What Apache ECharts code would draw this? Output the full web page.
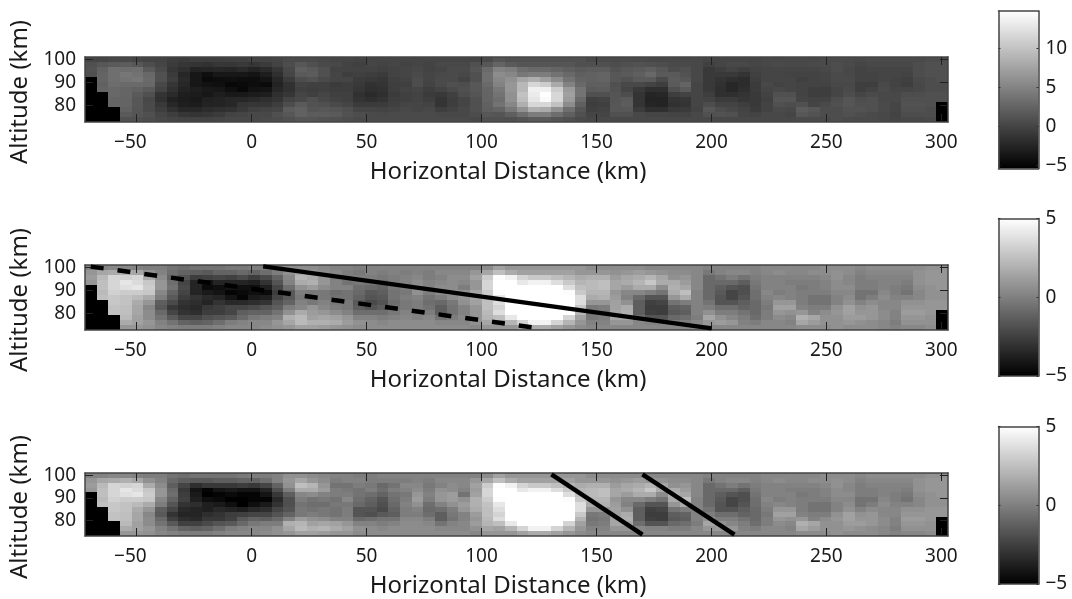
<!DOCTYPE html>
<html>
<head>
<meta charset="utf-8">
<style>
  html, body { margin: 0; padding: 0; background: #fff; }
  #chart { width: 1072px; height: 599px; }
</style>
<script src="https://cdn.jsdelivr.net/npm/echarts@6/dist/echarts.min.js"></script>
</head>
<body>
<div id="chart"></div>
<script>
// tick labels
const distanceTicks = [-50, 0, 50, 100, 150, 200, 250, 300];
const altitudeTicks = [80, 90, 100];
const barTicksTop = [-5, 0, 5, 10];
const barTicks = [-5, 0, 5];

// field extent (km)
const distanceRange = [-72.5, 302.9];
const altitudeRange = [72.9, 101.1];

// temperature per column, each column top row to bottom row
const fieldColumns = [
  [0.1,0.9,1.1,0.9,-6,-6,-6,-6,-6,-6,-6,-6,-6],
  [0.1,1.5,2.3,2.5,2.5,2.3,2.5,-6,-6,-6,-6,-6,-6],
  [0.3,1.7,3.4,3.4,3.4,3.2,2.8,2.8,2.6,2.6,-6,-6,-6],
  [0.3,1.9,3.2,4,3.8,3,2.6,2.6,2.5,2.5,2.3,1.7,0.9],
  [0.1,1.5,3.4,3.6,4,3,2.3,1.7,1.5,1.5,1.3,1.3,0.9],
  [-0.1,0.7,1.7,2.8,3,2.8,1.7,0.9,0.3,0.5,0.5,0.9,0.7],
  [-0.1,0.1,0.5,0.9,0.9,0.3,-0.1,-1.3,-1.5,-0.9,-0.5,0.1,0.3],
  [-0.5,-0.7,-1.1,-0.7,-0.5,-1.1,-1.5,-2.1,-2.8,-2.3,-1.5,-0.5,0.1],
  [-0.7,-1.1,-1.7,-2.3,-2.1,-2.3,-2.6,-3,-3.2,-3,-2.3,-1.1,-0.1],
  [-0.5,-1.3,-2.6,-3.6,-3.6,-3.6,-3,-3.2,-3.4,-3.2,-2.3,-1.3,-0.1],
  [-0.5,-1.5,-2.5,-4.2,-4.6,-4,-3.4,-3.6,-2.8,-2.6,-1.9,-1.1,-0.1],
  [-0.5,-1.1,-2.3,-3.6,-4.4,-4.2,-3.6,-3,-2.6,-2.6,-1.7,-0.7,0.1],
  [-0.3,-1.1,-2.5,-3.6,-4.2,-4.8,-4.2,-3.4,-2.3,-2.3,-1.5,-0.1,0.3],
  [-0.3,-0.9,-2.1,-3.6,-4.4,-4.6,-4.8,-3.4,-2.3,-1.3,-0.9,0.1,0.3],
  [-0.1,-1.1,-2.6,-3.8,-4.4,-4.4,-4,-3.2,-2.1,-1.1,-0.3,0.3,0.3],
  [-0.1,-0.7,-2.1,-3,-3.8,-4.6,-3.8,-3,-1.7,-1.1,-0.1,0.3,0.5],
  [0.1,-0.1,-1.1,-1.7,-2.3,-2.6,-2.3,-1.7,-1.3,-0.5,0.1,0.9,0.7],
  [0.5,0.7,0.3,0.1,-0.7,-1.5,-1.5,-1.1,-0.1,0.7,1.9,1.5,0.9],
  [0.5,1.5,2.1,1.7,0.7,-0.1,-0.3,0.1,0.3,1.7,2.3,2.3,1.3],
  [0.5,0.9,1.7,1.9,1.1,-0.3,-0.5,-0.3,0.9,1.1,1.3,1.9,1.3],
  [0.3,0.5,0.9,0.9,0.5,-0.3,-0.3,0.1,0.3,0.9,1.5,1.9,1.1],
  [0.1,0.3,-0.1,0.1,0.1,-0.7,-0.5,-0.3,-0.1,0.5,1.3,1.7,0.9],
  [0.1,-0.1,-0.1,-0.5,0.1,-0.5,-0.5,-0.3,-0.3,0.1,0.9,1.1,0.7],
  [-0.1,-0.3,-0.1,-0.3,-0.7,-0.9,-1.1,-1.5,-1.3,-0.7,0.1,0.7,0.5],
  [0.1,0.1,-0.1,-0.5,-0.9,-1.5,-1.7,-2.1,-1.7,-0.7,0.1,0.5,0.5],
  [0.1,-0.1,-0.3,-0.7,-1.1,-1.3,-1.5,-1.7,-1.3,-0.7,-0.1,0.3,0.5],
  [0.1,0.1,-0.1,-0.1,-0.3,-0.5,-0.5,-0.7,-0.5,-0.3,0.1,0.5,0.5],
  [0.1,-0.1,0.1,0.1,-0.1,-0.3,-0.1,-0.3,-0.3,0.1,0.3,0.5,0.5],
  [0.1,0.1,0.3,0.5,0.7,0.7,0.1,-0.1,-0.1,0.1,0.1,0.5,0.5],
  [0.1,-0.1,-0.1,0.1,0.1,-0.1,-0.5,-0.7,-0.5,-0.1,0.3,0.5,0.5],
  [0.1,0.3,0.1,0.3,0.5,0.5,-0.1,-0.9,-1.3,-1.3,-0.5,0.3,0.5],
  [0.1,0.3,0.5,0.5,0.5,0.9,0.5,-0.3,-0.5,-0.5,-0.1,0.3,0.5],
  [0.1,0.3,0.5,0.3,-0.1,0.7,0.9,0.7,0.1,0.1,0.3,0.3,0.5],
  [0.1,0.9,1.3,0.9,0.9,1.5,1.5,1.3,0.9,0.9,0.9,0.7,0.3],
  [0.5,1.5,3,3.4,3.4,3,2.6,2.5,2.5,2.3,2.1,1.5,0.9],
  [1.3,2.5,4.9,5.7,5.3,4.9,4.1,3.7,3.3,3.7,2.5,1.3,0.9],
  [0.9,1.7,4.5,5.3,6.1,6.5,6.5,6.1,6.1,5.3,4.1,2.1,0.9],
  [0.9,1.3,3.3,4.1,7.7,9.2,9.2,10,9.6,8.5,6.1,3.3,1.3],
  [0.9,1.3,2.9,4.5,8.5,11.6,13.6,13.2,12.8,11.6,8.5,4.5,1.7],
  [0.9,1.3,2.9,4.5,7.3,10.8,13.6,14.8,14.4,11.6,8.1,4.5,1.7],
  [0.9,1.3,2.5,3.7,5.7,8.1,10.8,11.6,11.6,10,6.1,3.3,1.3],
  [0.9,1.3,2.1,2.9,3.7,4.9,6.9,7.3,6.9,5.7,3.3,2.1,0.9],
  [0.9,0.9,1.7,2.1,2.5,2.9,3.7,3.7,2.9,2.1,1.3,0.9,0.5],
  [0.5,0.9,1.9,2.3,2.3,2.1,1.7,0.9,-0.3,-0.5,-0.3,0.1,0.3],
  [0.5,0.9,1.9,2.5,2.5,2.1,1.9,0.9,-0.1,-0.3,-0.1,0.1,0.3],
  [0.5,0.7,1.1,1.5,1.5,0.9,1.1,1.3,1.3,1.5,1.5,0.9,0.3],
  [0.5,0.9,1.5,1.7,1.1,0.3,0.1,0.7,1.7,1.9,1.5,0.9,0.3],
  [0.5,1.1,1.7,2.1,1.7,0.3,-0.9,-1.3,-1.3,-1.3,-0.7,0.3,0.3],
  [0.3,0.9,2.1,2.8,1.7,-0.1,-1.7,-2.5,-2.6,-2.5,-1.7,0.1,0.3],
  [0.3,0.7,1.5,1.7,0.5,-0.5,-1.7,-2.3,-2.6,-2.6,-1.7,0.1,0.3],
  [0.3,0.5,0.7,1.7,1.9,1.7,0.9,-0.5,-1.3,-1.5,-0.9,-0.1,0.3],
  [0.3,0.5,0.9,1.1,1.5,2.5,1.7,-0.1,-1.1,-1.3,-0.7,-0.1,0.3],
  [0.3,0.3,0.3,0.3,0.3,0.1,0.1,0.1,0.1,0.1,-0.1,0.3,0.3],
  [0.1,-0.3,-0.9,-0.9,-0.9,-0.9,-0.9,-0.5,-0.1,0.7,1.5,0.9,0.3],
  [0.1,0.1,-0.5,-0.9,-1.3,-1.5,-1.7,-1.7,-0.7,-0.1,0.7,1.1,0.3],
  [0.1,0.3,-0.1,-0.9,-1.7,-2.3,-2.3,-1.7,-0.7,-0.1,0.3,0.9,0.3],
  [0.1,0.3,-0.5,-1.3,-1.9,-1.9,-1.7,-1.3,-1.1,-0.5,-0.1,0.1,0.3],
  [0.1,0.1,-0.1,-0.3,-0.5,-0.7,-0.7,-0.9,-0.9,-0.9,-0.7,-0.1,0.3],
  [0.3,0.3,0.1,0.1,0.1,0.3,0.1,-0.1,-0.3,-0.1,-0.1,0.3,0.3],
  [0.3,0.5,0.1,0.1,0.1,-0.1,0.3,0.9,1.3,0.9,0.5,0.3,0.3],
  [0.3,0.3,0.1,-0.1,0.1,0.1,0.1,0.9,1.3,0.7,0.3,0.1,0.3],
  [0.3,0.3,0.1,-0.1,-0.3,-0.1,-0.1,-0.1,0.1,0.9,1.9,1.5,0.5],
  [0.3,0.5,0.1,-0.1,-0.1,-0.1,-0.5,-0.5,-0.1,0.1,1.5,1.1,0.5],
  [0.5,0.5,0.3,0.1,0.1,-0.1,-0.5,-0.5,-0.1,0.5,0.7,0.7,0.5],
  [0.5,0.7,0.7,0.5,0.5,0.3,0.1,0.1,0.7,0.9,0.7,0.7,0.7],
  [0.5,0.5,0.3,0.3,0.5,0.3,0.5,0.7,1.3,1.3,1.1,0.9,0.5],
  [0.3,0.1,-0.1,-0.1,-0.1,-0.5,-0.5,0.1,0.7,0.9,1.1,0.7,0.5],
  [0.5,0.3,0.1,-0.1,-0.1,-0.5,-0.1,0.5,0.9,0.9,0.9,0.5,0.5],
  [0.5,0.3,0.1,0.1,0.1,0.3,0.5,0.3,0.3,0.5,0.5,0.3,0.3],
  [0.5,0.3,0.1,0.1,-0.1,-0.1,0.1,0.3,0.3,0.1,0.1,-0.1,0.1],
  [0.5,0.3,0.1,-0.1,-0.3,-0.5,0.1,0.7,0.9,1.1,0.9,0.7,0.3],
  [0.5,0.7,0.7,0.7,0.5,0.3,0.3,0.7,0.9,1.1,0.9,0.7,0.3],
  [0.7,0.9,0.9,0.9,0.7,0.7,0.7,0.9,0.9,0.9,0.7,0.7,0.5],
  [0.7,0.9,0.9,0.9,0.9,0.7,0.7,0.9,0.9,-6,-6,-6,-6],
];

// bottom panel differs from the field only in columns 7 to 33
const filteredMiddle = [
  [-0.5,-0.9,-1.3,-0.9,-0.7,-1.1,-1.7,-2.3,-3,-2.5,-1.5,-0.5,0.1],
  [-0.7,-1.3,-2.3,-2.8,-2.6,-2.5,-3,-3.4,-3.6,-3.2,-2.5,-1.1,-0.1],
  [-0.5,-1.5,-3.2,-4.2,-4,-3.8,-3.2,-3.6,-3.6,-3.4,-2.5,-1.3,-0.1],
  [-0.5,-1.5,-2.8,-4.8,-5,-4.4,-3.8,-3.8,-3.2,-2.8,-2.1,-1.1,-0.1],
  [-0.5,-1.3,-2.8,-4.2,-4.8,-4.6,-4,-3.4,-3,-2.8,-1.7,-0.7,0.1],
  [-0.5,-1.3,-2.8,-4,-4.6,-5,-4.4,-3.6,-2.6,-2.5,-1.5,-0.1,0.3],
  [-0.3,-1.1,-2.6,-4.2,-4.8,-5,-5,-3.8,-2.5,-1.5,-0.9,0.1,0.3],
  [-0.1,-1.1,-2.8,-4.2,-4.8,-4.8,-4.4,-3.4,-2.3,-1.1,-0.3,0.3,0.3],
  [-0.1,-0.7,-2.3,-3.6,-4.2,-4.8,-4,-3.2,-2.3,-1.3,-0.1,0.3,0.5],
  [0.1,0.1,-1.1,-1.9,-2.8,-3.4,-3,-2.3,-1.7,-0.9,-0.1,0.7,0.7],
  [0.7,0.9,0.7,-0.1,-1.3,-1.9,-1.9,-1.7,-1.1,0.1,1.9,1.5,0.9],
  [0.7,1.5,2.5,1.7,0.3,-0.1,-0.5,-0.3,-0.3,1.1,2.1,2.3,1.3],
  [0.5,0.9,2.1,1.7,0.5,-0.5,-0.7,-0.5,-0.1,0.7,1.3,1.9,1.3],
  [0.3,0.5,0.9,1.1,0.1,-0.3,-0.7,-0.3,-0.3,0.5,1.5,2.1,1.1],
  [0.1,-0.1,-0.5,-0.1,-0.1,-0.5,-0.3,-0.5,-0.5,0.1,1.3,1.7,0.9],
  [0.1,0.1,-0.5,-0.3,-0.1,0.3,-0.3,-0.1,-0.1,0.1,0.9,1.3,0.9],
  [-0.1,0.1,-0.1,-0.5,-0.5,-0.7,-0.9,-1.7,-1.7,-0.9,0.1,0.7,0.5],
  [-0.1,-0.1,-0.3,-0.1,-0.7,-1.1,-1.3,-1.7,-1.9,-0.7,0.1,0.5,0.5],
  [0.1,-0.1,-0.9,-0.7,-1.1,-1.7,-1.9,-2.1,-1.5,-0.5,-0.1,0.3,0.5],
  [0.1,-0.1,-0.5,-0.1,-0.5,-0.7,-0.9,-1.1,-1.3,-0.5,0.1,0.5,0.5],
  [0.1,-0.1,0.3,0.1,-0.3,-0.1,0.1,-0.1,-0.1,0.3,0.5,0.5,0.5],
  [0.1,0.1,0.3,0.5,0.9,1.1,0.7,0.1,-0.1,0.3,0.5,0.5,0.5],
  [0.1,-0.1,-0.3,-0.1,0.1,-0.1,-0.7,-0.9,-0.7,-0.1,0.3,0.5,0.5],
  [0.1,0.3,0.1,0.7,0.9,0.9,0.1,-0.7,-1.3,-1.3,-0.5,0.3,0.5],
  [0.1,0.3,0.5,0.5,1.1,1.1,0.7,-0.1,-0.3,-0.5,0.1,0.3,0.5],
  [0.1,0.3,0.3,0.1,-0.5,0.7,1.1,0.9,0.1,0.1,0.3,0.3,0.5],
  [0.1,0.9,1.3,1.1,1.3,1.9,1.9,1.7,1.1,0.9,1.1,0.7,0.3],
];
const filteredColumns = [...fieldColumns.slice(0, 7), ...filteredMiddle, ...fieldColumns.slice(34)];

// overlay lines, [distance, altitude]
const dashedFront = [[-70, 100.4], [122.7, 74]];
const solidFront = [[5, 100.5], [200, 73.6]];
const phaseLineA = [[130.4, 100.5], [170, 73.5]];
const phaseLineB = [[170, 100.5], [210, 73.5]];

const FONT = '"Noto Sans", sans-serif';
const TEXT = '#1a1a1a';
const FRAME = '#444';

const cellWidth = (distanceRange[1] - distanceRange[0]) / fieldColumns.length;
const cellHeight = (altitudeRange[1] - altitudeRange[0]) / fieldColumns[0].length;

const minus = (v) => String(v).replace('-', '\u2212');
// the reference centres the digits on the tick and lets the minus hang to the left
const hangingMinus = (v) => (v < 0 ? minus(v) + '\u2002\u2009' : String(v));

// [x0, yTop, value] for every cell
const toCells = (columns) =>
  columns.flatMap((col, c) =>
    col.map((v, r) => [
      distanceRange[0] + c * cellWidth,
      altitudeRange[1] - r * cellHeight,
      v,
    ])
  );

const cellRenderer = (lo, hi) => (params, api) => {
  const p0 = api.coord([api.value(0), api.value(1)]);
  const p1 = api.coord([api.value(0) + cellWidth, api.value(1) - cellHeight]);
  const g = Math.round(echarts.number.linearMap(api.value(2), [lo, hi], [0, 255], true));
  const x = Math.round(p0[0]);
  const y = Math.round(p0[1]);
  return {
    type: 'rect',
    shape: { x, y, width: Math.round(p1[0]) - x, height: Math.round(p1[1]) - y },
    style: { fill: `rgb(${g},${g},${g})` },
  };
};

const barRenderer = (params, api) => {
  const p0 = api.coord([0, api.value(1)]);
  const p1 = api.coord([1, api.value(0)]);
  return {
    type: 'rect',
    shape: { x: p0[0], y: p0[1], width: p1[0] - p0[0], height: p1[1] - p0[1] },
    style: {
      fill: new echarts.graphic.LinearGradient(0, 0, 0, 1, [
        { offset: 0, color: '#fff' },
        { offset: 1, color: '#000' },
      ]),
    },
  };
};

const grids = [];
const xAxes = [];
const yAxes = [];
const series = [];

const line = { show: true, onZero: false, lineStyle: { color: FRAME, width: 1.5 } };

// one field panel with its mirrored frame and its colour bar
function addPanel(top, barTop, barRange, ticks, columns, lo, hi, overlays) {
  const g = grids.length;
  const xa = xAxes.length;
  const ya = yAxes.length;

  grids.push({ left: 85, width: 863, top, height: 65 });
  const xTick = { show: true, inside: true, length: 8, lineStyle: { color: '#222', width: 1 }, customValues: distanceTicks };
  const yTick = { show: true, inside: true, length: 8, lineStyle: { color: '#222', width: 1 }, customValues: altitudeTicks };

  xAxes.push({
    type: 'value', gridIndex: g, position: 'bottom', min: distanceRange[0], max: distanceRange[1], z: 5,
    axisLine: line, axisTick: xTick, splitLine: { show: false },
    axisLabel: { customValues: distanceTicks, formatter: hangingMinus, color: TEXT, fontFamily: FONT, fontSize: 19, margin: 11 },
    name: 'Horizontal Distance (km)', nameLocation: 'middle', nameGap: 38,
    nameTextStyle: { color: TEXT, fontFamily: FONT, fontSize: 24, padding: [0, 17, 0, 0] },
  });
  xAxes.push({
    type: 'value', gridIndex: g, position: 'top', min: distanceRange[0], max: distanceRange[1], z: 5,
    axisLine: line, axisTick: xTick, axisLabel: { show: false }, splitLine: { show: false },
  });
  yAxes.push({
    type: 'value', gridIndex: g, position: 'left', min: altitudeRange[0], max: altitudeRange[1], z: 5,
    axisLine: line, axisTick: yTick, splitLine: { show: false },
    axisLabel: { customValues: altitudeTicks, color: TEXT, fontFamily: FONT, fontSize: 19, margin: 9 },
    name: 'Altitude (km)', nameLocation: 'middle', nameGap: 48,
    nameTextStyle: { color: TEXT, fontFamily: FONT, fontSize: 24, padding: [0, 5, 0, 0] },
  });
  yAxes.push({
    type: 'value', gridIndex: g, position: 'right', min: altitudeRange[0], max: altitudeRange[1], z: 5,
    axisLine: line, axisTick: yTick, axisLabel: { show: false }, splitLine: { show: false },
  });

  series.push({
    type: 'custom', xAxisIndex: xa, yAxisIndex: ya, coordinateSystem: 'cartesian2d',
    data: toCells(columns), renderItem: cellRenderer(lo, hi), encode: { x: 0, y: 1 }, silent: true,
  });
  overlays.forEach((o) => {
    series.push({
      type: 'line', xAxisIndex: xa, yAxisIndex: ya, data: o.points, symbol: 'none', z: 6, silent: true,
      lineStyle: { color: '#000', width: 4.5, type: o.dashed ? [13, 14] : 'solid', cap: 'butt' },
    });
  });

  // colour bar
  const bg = grids.length;
  const bx = xAxes.length;
  const by = yAxes.length;
  grids.push({ left: 998.5, width: 40, top: barTop, height: 157.5 });
  const barTick = { show: true, inside: true, length: 2, lineStyle: { color: '#333', width: 1 }, customValues: ticks };
  ['bottom', 'top'].forEach((position) => {
    xAxes.push({
      type: 'value', gridIndex: bg, position, min: 0, max: 1, z: 5,
      axisLine: line, axisTick: { show: false }, axisLabel: { show: false }, splitLine: { show: false },
    });
  });
  yAxes.push({
    type: 'value', gridIndex: bg, position: 'right', min: barRange[0], max: barRange[1], z: 5,
    axisLine: line, axisTick: barTick, splitLine: { show: false },
    axisLabel: { customValues: ticks, formatter: minus, color: TEXT, fontFamily: FONT, fontSize: 19, margin: 7 },
  });
  yAxes.push({
    type: 'value', gridIndex: bg, position: 'left', min: barRange[0], max: barRange[1], z: 5,
    axisLine: line, axisTick: barTick, axisLabel: { show: false }, splitLine: { show: false },
  });
  series.push({
    type: 'custom', xAxisIndex: bx, yAxisIndex: by, coordinateSystem: 'cartesian2d',
    data: [[barRange[0], barRange[1]]], renderItem: barRenderer, silent: true,
    encode: { y: [0, 1] },
  });
}

addPanel(57, 11, [-5.4, 14.8], barTicksTop, fieldColumns, -5.4, 14.8, []);
addPanel(265, 218.5, [-5, 5], barTicks, fieldColumns, -5, 5, [
  { points: dashedFront, dashed: true },
  { points: solidFront, dashed: false },
]);
addPanel(473, 426.5, [-5, 5], barTicks, filteredColumns, -5, 5, [
  { points: phaseLineA, dashed: false },
  { points: phaseLineB, dashed: false },
]);

const chart = echarts.init(document.getElementById('chart'));
chart.setOption({
  animation: false,
  backgroundColor: '#fff',
  grid: grids,
  xAxis: xAxes,
  yAxis: yAxes,
  series,
});
window.addEventListener('resize', () => chart.resize());
</script>
</body>
</html>
